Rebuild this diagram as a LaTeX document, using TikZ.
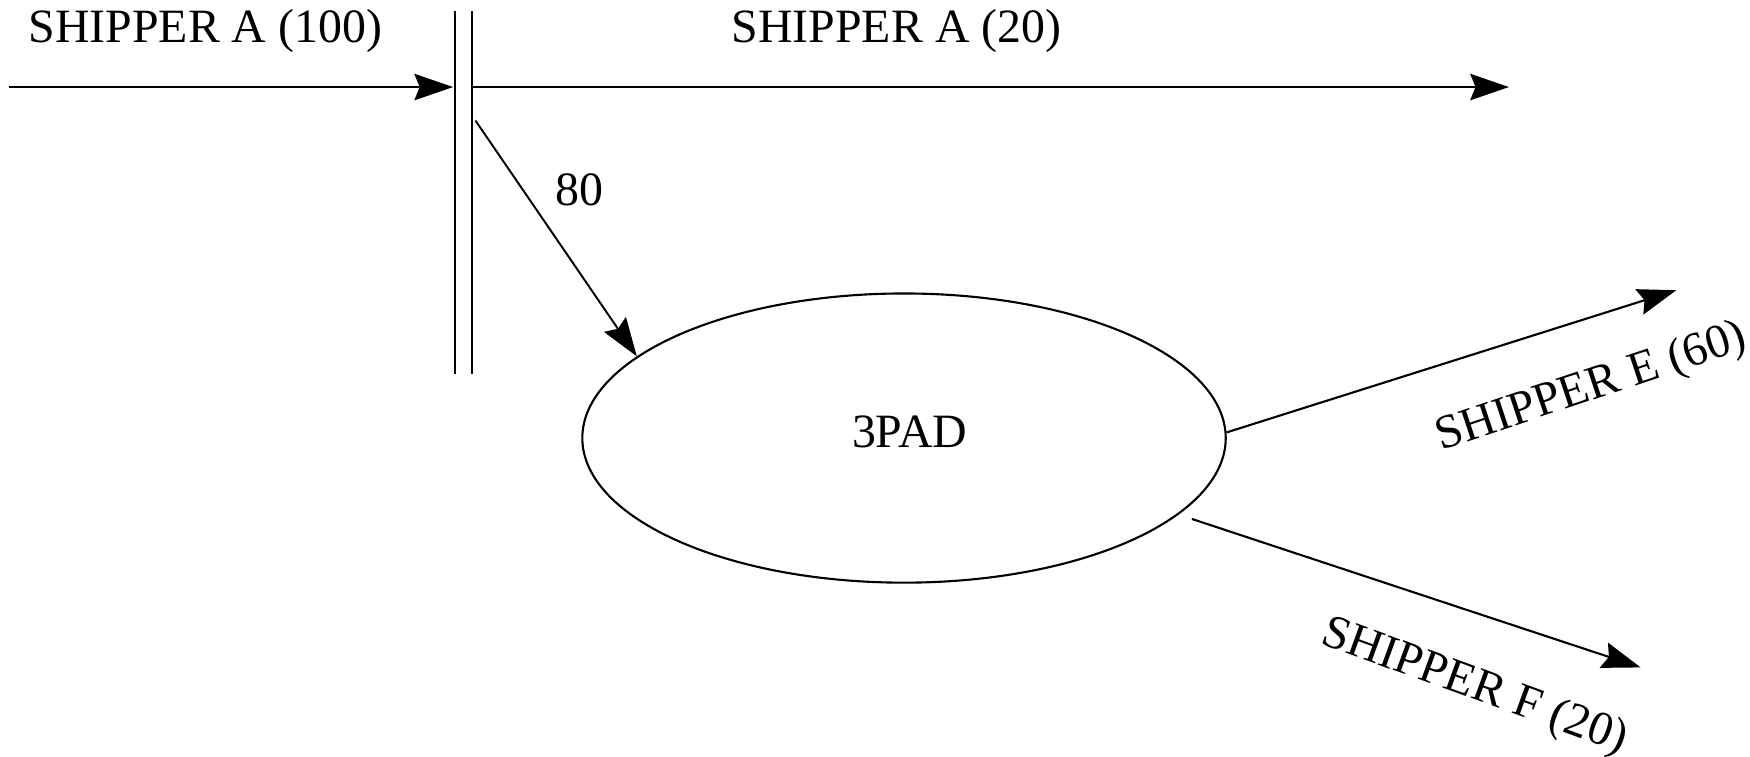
\documentclass[tikz,border=0pt]{standalone}
\usepackage{fontspec}
\setmainfont{Liberation Serif}
\usetikzlibrary{arrows.meta,shapes.geometric}
\begin{document}
\begin{tikzpicture}[x=0.011161cm,y=-0.011161cm,
  lbl/.style={inner sep=0pt,font=\fontsize{13.6pt}{16pt}\selectfont},
  flow/.style={line width=0.65pt,-{Stealth[length=11pt,width=7.5pt,inset=1.5pt]}},
  bar/.style={line width=0.6pt},
  padnode/.style={ellipse,draw,line width=0.6pt,minimum width=6.43cm,minimum height=2.89cm,inner sep=0pt,font=\fontsize{13.6pt}{16pt}\selectfont}]
\useasboundingbox (0,0) rectangle (1568,678);
% double bar
\coordinate (b1t) at (408,10);
\coordinate (b1b) at (408,335);
\coordinate (b2t) at (423,10);
\coordinate (b2b) at (423,335);
\draw[bar] (b1t) -- (b1b);
\draw[bar] (b2t) -- (b2b);
% top arrows
\coordinate (inA) at (8,78);
\coordinate (barIn) at (406,78);
\coordinate (barOut) at (424,78);
\coordinate (outA) at (1352,78);
\draw[flow] (inA) -- (barIn);
\draw[flow] (barOut) -- (outA);
\node[lbl,anchor=base west] (lA100) at (25,38) {SHIPPER A (100)};
\node[lbl,anchor=base west] (lA20) at (655,38) {SHIPPER A (20)};
% ellipse
\node[padnode] (pad) at (810,392.5) {};
\node[lbl] (padtxt) at (815,387) {3PAD};
% split arrow
\coordinate (split) at (426,108);
\draw[flow,line width=0.55pt] (split) -- (pad.163.5);
\node[lbl] (l80) at (519,170) {80};
% outgoing
\coordinate (eEnd) at (1502,260);
\coordinate (fStart) at (1068,465);
\coordinate (fEnd) at (1470,598);
\draw[flow,line width=0.6pt] (pad.1.3) -- (eEnd);
\draw[flow,line width=0.6pt] (fStart) -- (fEnd);
\node[lbl,rotate=18.5] (lE) at (1426,348) {SHIPPER E (60)};
\node[lbl,rotate=-20] (lF) at (1321,616) {SHIPPER F (20)};
\end{tikzpicture}
\end{document}
